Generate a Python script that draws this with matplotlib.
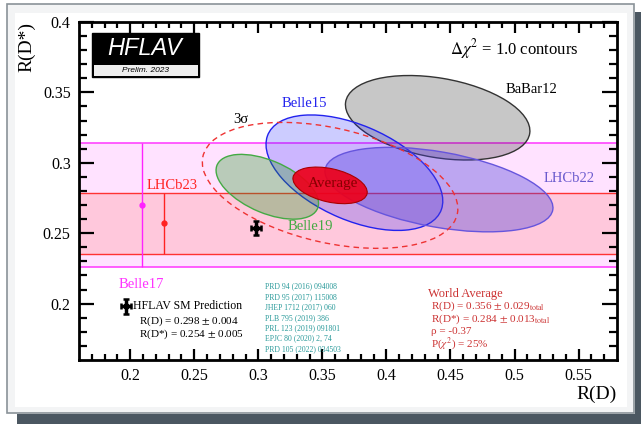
import numpy as np
import matplotlib
matplotlib.use("Agg")
import matplotlib.pyplot as plt
from matplotlib.patches import Ellipse, Rectangle

plt.rcParams['font.family'] = ['Liberation Serif', 'DejaVu Serif']
plt.rcParams['mathtext.fontset'] = 'stix'

# measurements (R(D), err, R(D*), err, correlation)
names = ["BaBar12", "Belle15", "Belle19", "LHCb22"]
rd = [0.440, 0.375, 0.307, 0.441]
rd_err = [0.072, 0.069, 0.040, 0.089]
rds = [0.332, 0.293, 0.283, 0.281]
rds_err = [0.030, 0.041, 0.023, 0.030]
rho = [-0.31, -0.49, -0.51, -0.43]

# world average
avg_rd, avg_rd_err = 0.356, 0.029
avg_rds, avg_rds_err = 0.284, 0.013
avg_rho = -0.37

# R(D*)-only measurements (bands)
belle17_rds, belle17_err, belle17_x = 0.270, 0.044, 0.209
lhcb23_rds, lhcb23_err, lhcb23_x = 0.257, 0.0215, 0.226

# SM prediction
sm_rd, sm_rd_err = 0.298, 0.004
sm_rds, sm_rds_err = 0.254, 0.005

refs = ["PRD 94 (2016) 094008", "PRD 95 (2017) 115008", "JHEP 1712 (2017) 060",
        "PLB 795 (2019) 386", "PRL 123 (2019) 091801", "EPJC 80 (2020) 2, 74",
        "PRD 105 (2022) 034503"]


def cov_ellipse(x, sx, y, sy, r, dchi2, **kw):
    cov = np.array([[sx**2, r*sx*sy], [r*sx*sy, sy**2]])
    vals, vecs = np.linalg.eigh(cov)
    angle = np.degrees(np.arctan2(vecs[1, 1], vecs[0, 1]))
    w = 2*np.sqrt(dchi2*vals[1])
    h = 2*np.sqrt(dchi2*vals[0])
    return Ellipse((x, y), w, h, angle=angle, **kw)


W, H = 641, 424
fig = plt.figure(figsize=(W/100, H/100), dpi=100)
fig.patch.set_facecolor('white')


def fig_rect(x0, y0, x1, y1, **kw):
    # pixel box (top-left origin) -> figure fraction
    r = Rectangle((x0/W, 1 - y1/H), (x1-x0)/W, (y1-y0)/H,
                  transform=fig.transFigure, zorder=-10, **kw)
    fig.add_artist(r)


fig_rect(635, 12, 641, 424, facecolor='#4b5761', edgecolor='none')
fig_rect(17, 414, 641, 424, facecolor='#4b5761', edgecolor='none')
fig_rect(7, 4, 634, 413, facecolor='#f3f4f5', edgecolor='#8a9298', linewidth=1.2)
fig_rect(15, 13, 627, 407, facecolor='white', edgecolor='none')

ax = fig.add_axes([79/W, 1 - 360/H, (617-79)/W, (360-22)/H])
ax.set_xlim(0.16, 0.58)
ax.set_ylim(0.16, 0.40)

# bands
ax.axhspan(belle17_rds - belle17_err, belle17_rds + belle17_err, color='#ffe2ff', lw=0, zorder=1)
ax.axhspan(lhcb23_rds - lhcb23_err, lhcb23_rds + lhcb23_err, color='#ffc8dc', lw=0, zorder=1.1)
for yv in (belle17_rds - belle17_err, belle17_rds + belle17_err):
    ax.axhline(yv, color='#ff44ff', lw=1.2, zorder=1.2)
for yv in (lhcb23_rds - lhcb23_err, lhcb23_rds + lhcb23_err):
    ax.axhline(yv, color='#ff3333', lw=1.0, zorder=1.2)
ax.errorbar(belle17_x, belle17_rds, yerr=belle17_err, fmt='o', color='#ff22ff',
            ms=3.5, elinewidth=1.0, capsize=0, zorder=1.3)
ax.errorbar(lhcb23_x, lhcb23_rds, yerr=lhcb23_err, fmt='o', color='#ff2222',
            ms=3.5, elinewidth=1.0, capsize=0, zorder=1.3)

# measurement ellipses
styles = {
    "BaBar12": dict(facecolor=(0, 0, 0, 0.22), edgecolor='#333333'),
    "Belle15": dict(facecolor=(0.1, 0.1, 1.0, 0.22), edgecolor='#2222ee'),
    "Belle19": dict(facecolor=(0.1, 0.6, 0.1, 0.30), edgecolor='#44aa44'),
    "LHCb22": dict(facecolor=(0.3, 0.25, 0.85, 0.37), edgecolor='#6655dd'),
}
for i, n in enumerate(names):
    ax.add_patch(cov_ellipse(rd[i], rd_err[i], rds[i], rds_err[i], rho[i], 1.0,
                             lw=1.0, zorder=2, **styles[n]))

ax.add_patch(cov_ellipse(avg_rd, avg_rd_err, avg_rds, avg_rds_err, avg_rho, 11.83,
                         facecolor='none', edgecolor='#ee3333', lw=1.0,
                         linestyle=(0, (4, 3)), zorder=3))
ax.add_patch(cov_ellipse(avg_rd, avg_rd_err, avg_rds, avg_rds_err, avg_rho, 1.0,
                         facecolor=(0.93, 0.0, 0.1, 0.92), edgecolor='#aa0000',
                         lw=0.8, zorder=3))

# SM prediction and its legend marker
for x, y in ((sm_rd, sm_rds), (0.1965, 0.198)):
    ax.errorbar(x, y, xerr=sm_rd_err, yerr=sm_rds_err, fmt='s', color='black',
                ms=3, elinewidth=2.5, capsize=2.5, capthick=1.8, zorder=4)

# labels
lab = dict(fontsize=10.5, ha='center', va='center', zorder=5)
ax.text(0.336, 0.342, "Belle15", color='#2222ee', **lab)
ax.text(0.286, 0.331, "3σ", color='black', **lab)
ax.text(0.513, 0.352, "BaBar12", color='black', **lab)
ax.text(0.543, 0.289, "LHCb22", color='#6a5acd', **lab)
ax.text(0.358, 0.285, "Average", color='#880000', fontsize=11, ha='center', va='center', zorder=5)
ax.text(0.3406, 0.255, "Belle19", color='#44aa44', **lab)
ax.text(0.233, 0.2836, "LHCb23", color='#ff2222', **lab)
ax.text(0.209, 0.2136, "Belle17", color='#ff33ff', **lab)

ax.text(0.450, 0.381, r"$\Delta\chi^2$ = 1.0 contours", fontsize=12, ha='left', va='center')

ax.text(0.2025, 0.1985, "HFLAV SM Prediction", fontsize=8.5, ha='left', va='center')
ax.text(0.2068, 0.1872, r"R(D) = 0.298 $\pm$ 0.004", fontsize=8, ha='left', va='center')
ax.text(0.2068, 0.1780, r"R(D*) = 0.254 $\pm$ 0.005", fontsize=8, ha='left', va='center')

for i, r in enumerate(refs):
    ax.text(0.3055, 0.2121 - i*0.00736, r, fontsize=5.6, color='#2a9a9a',
            ha='left', va='center', zorder=5)

wa = dict(color='#cc3333', ha='left', va='center')
ax.text(0.4328, 0.2071, "World Average", fontsize=9, **wa)
ax.text(0.435, 0.1979, r"R(D) = 0.356 $\pm$ 0.029$_{\mathrm{total}}$", fontsize=8, **wa)
ax.text(0.435, 0.1886, r"R(D*) = 0.284 $\pm$ 0.013$_{\mathrm{total}}$", fontsize=8, **wa)
ax.text(0.435, 0.1800, "ρ = -0.37", fontsize=8, **wa)
ax.text(0.435, 0.1714, r"P($\chi^2$) = 25%", fontsize=8, **wa)

# HFLAV logo
ax.add_patch(Rectangle((0.0242, 0.837), 0.199, 0.130, transform=ax.transAxes,
                       facecolor='black', edgecolor='black', zorder=6))
ax.add_patch(Rectangle((0.0279, 0.840), 0.1933, 0.033, transform=ax.transAxes,
                       facecolor='#eeeeee', edgecolor='none', zorder=7))
ax.text(0.1227, 0.922, "HFLAV", transform=ax.transAxes, color='white', fontsize=17,
        family='Liberation Sans', style='italic', ha='center', va='center', zorder=8)
ax.text(0.1245, 0.857, "Prelim. 2023", transform=ax.transAxes, color='black', fontsize=6,
        family='Liberation Sans', style='italic', ha='center', va='center', zorder=8)

# axes styling (ROOT-like)
ax.set_xticks(np.arange(0.2, 0.551, 0.05))
ax.set_yticks(np.arange(0.2, 0.401, 0.05))
ax.set_xticklabels(["0.2", "0.25", "0.3", "0.35", "0.4", "0.45", "0.5", "0.55"])
ax.set_yticklabels(["0.2", "0.25", "0.3", "0.35", "0.4"])
ax.set_xticks(np.arange(0.17, 0.58, 0.01), minor=True)
ax.set_yticks(np.arange(0.17, 0.40, 0.01), minor=True)
ax.tick_params(axis='both', which='both', direction='in', top=True, right=True,
               labelsize=11.5, width=1.6, pad=6)
ax.tick_params(axis='x', which='major', length=8)
ax.tick_params(axis='x', which='minor', length=4)
ax.tick_params(axis='y', which='major', length=11)
ax.tick_params(axis='y', which='minor', length=5.5)
for s in ax.spines.values():
    s.set_linewidth(2)

fig.text(27/W, 1 - 22/H, "R(D*)", rotation=90, fontsize=14, ha='center', va='top')
fig.text(617/W, 1 - 394/H, "R(D)", fontsize=14, ha='right', va='center')

fig.savefig("out.png", dpi=100)
